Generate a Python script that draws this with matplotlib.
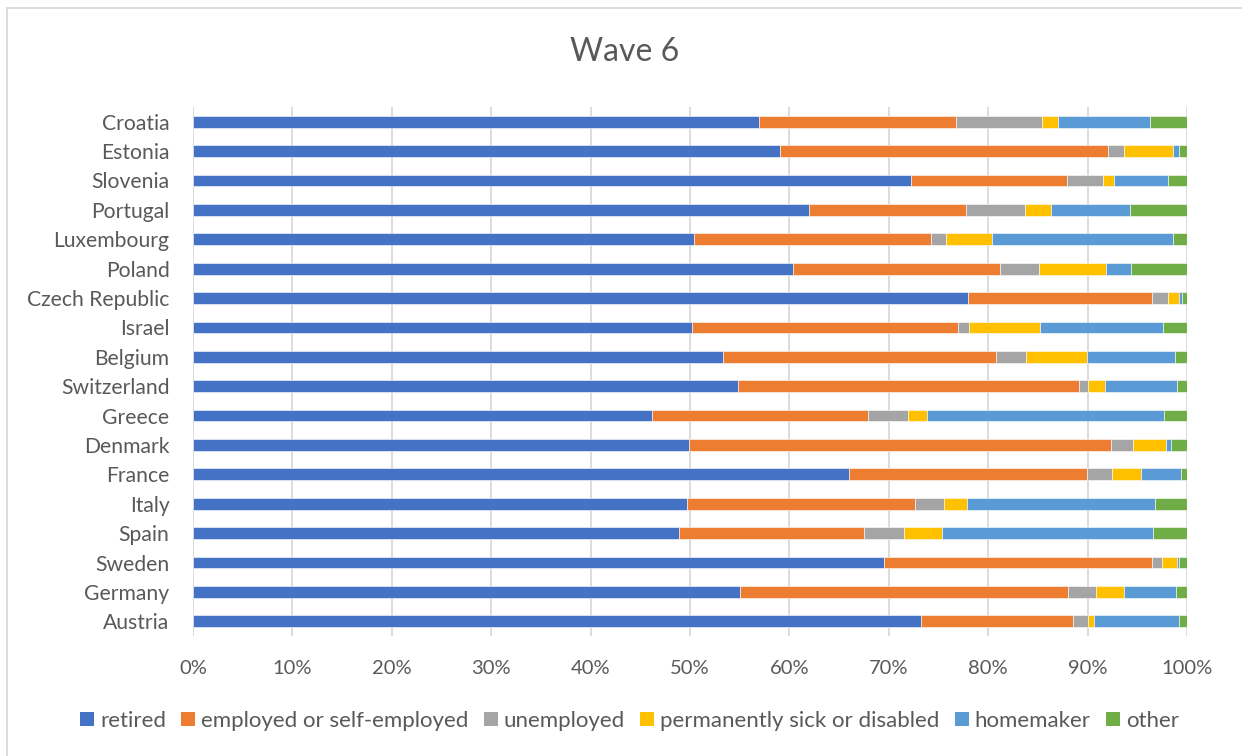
import matplotlib
matplotlib.use("Agg")
import matplotlib.pyplot as plt
from matplotlib.patches import Patch
from matplotlib.lines import Line2D
import numpy as np

# Countries, listed bottom-to-top as they appear on the axis
countries = ["Austria", "Germany", "Sweden", "Spain", "Italy", "France",
             "Denmark", "Greece", "Switzerland", "Belgium", "Israel",
             "Czech Republic", "Poland", "Luxembourg", "Portugal",
             "Slovenia", "Estonia", "Croatia"]

# Shares (%) of each activity status per country, same order as above
retired = [73.2, 55.0, 69.5, 48.9, 49.7, 66.0, 49.9, 46.2, 54.8, 53.3,
           50.2, 78.0, 60.4, 50.4, 62.0, 72.2, 59.1, 56.9]
employed = [15.3, 33.0, 27.0, 18.6, 22.9, 23.9, 42.5, 21.7, 34.3, 27.5,
            26.8, 18.5, 20.8, 23.8, 15.8, 15.7, 33.0, 19.9]
unemployed = [1.5, 2.8, 1.0, 4.0, 3.0, 2.6, 2.2, 4.0, 0.9, 3.0,
              1.1, 1.6, 3.9, 1.6, 5.9, 3.6, 1.6, 8.6]
sick = [0.6, 2.9, 1.5, 3.9, 2.3, 2.9, 3.3, 1.9, 1.8, 6.1,
        7.1, 1.1, 6.8, 4.6, 2.6, 1.2, 4.9, 1.6]
homemaker = [8.6, 5.2, 0.2, 21.2, 18.9, 4.0, 0.5, 23.9, 7.2, 8.9,
             12.4, 0.3, 2.5, 18.2, 8.0, 5.4, 0.6, 9.3]
other = [0.8, 1.1, 0.8, 3.4, 3.2, 0.6, 1.6, 2.3, 1.0, 1.2,
         2.4, 0.5, 5.6, 1.4, 5.7, 1.9, 0.8, 3.7]

series_names = ["retired", "employed or self-employed", "unemployed",
                "permanently sick or disabled", "homemaker", "other"]
series_colors = ["#4472C4", "#ED7D31", "#A5A5A5", "#FFC000", "#5B9BD5", "#70AD47"]
xtick_labels = ["0%", "10%", "20%", "30%", "40%", "50%",
                "60%", "70%", "80%", "90%", "100%"]

text_color = "#595959"
grid_color = "#D9D9D9"
font = "Lato"

plt.rcParams["font.family"] = [font, "DejaVu Sans"]

W, H = 1242, 756
fig = plt.figure(figsize=(W / 100, H / 100), dpi=100)
fig.patch.set_facecolor("white")

# plot area in pixel coordinates
x0, x1, y_top, y_bot = 193, 1187, 107, 636
ax = fig.add_axes([x0 / W, 1 - y_bot / H, (x1 - x0) / W, (y_bot - y_top) / H])

data = np.array([retired, employed, unemployed, sick, homemaker, other], dtype=float)
shares = data / data.sum(axis=0) * 100.0  # 100% stacked

y = np.arange(len(countries))
left = np.zeros(len(countries))
for vals, name, col in zip(shares, series_names, series_colors):
    ax.barh(y, vals, left=left, height=0.4, color=col, label=name,
            edgecolor="white", linewidth=0.4, zorder=3)
    left += vals

ax.set_xlim(0, 100)
ax.set_ylim(-0.5, len(countries) - 0.5)
ax.set_xticks(np.arange(0, 101, 10))
ax.set_xticklabels(xtick_labels)
ax.set_yticks(y)
ax.set_yticklabels(countries)

ax.grid(axis="x", color=grid_color, linewidth=1.3, zorder=0)
ax.grid(axis="y", visible=False)
for s in ax.spines.values():
    s.set_visible(False)
ax.tick_params(axis="both", length=0, colors=text_color)
ax.tick_params(axis="y", pad=17, labelsize=15.2)
ax.tick_params(axis="x", pad=17, labelsize=14.5)

# Title
fig.text(625 / W, 1 - 52 / H, "Wave 6", ha="center", va="center",
         fontsize=23, color=text_color)

# Legend
handles = [Patch(facecolor=c, edgecolor="none") for c in series_colors]
leg = fig.legend(handles, series_names, loc="center",
                 bbox_to_anchor=(629.5 / W, 1 - 721 / H), ncol=6, frameon=False,
                 fontsize=16, handlelength=0.63, handleheight=0.63,
                 handletextpad=0.27, columnspacing=0.68, borderaxespad=0)
for t in leg.get_texts():
    t.set_color(text_color)

# Chart-area border (left and top edges)
fig.add_artist(Line2D([7 / W, 7 / W], [0, 1 - 8 / H], transform=fig.transFigure,
                      color=grid_color, linewidth=1.3))
fig.add_artist(Line2D([7 / W, 1], [1 - 8 / H, 1 - 8 / H], transform=fig.transFigure,
                      color=grid_color, linewidth=1.3))

fig.savefig("out.png", dpi=100, facecolor="white")
